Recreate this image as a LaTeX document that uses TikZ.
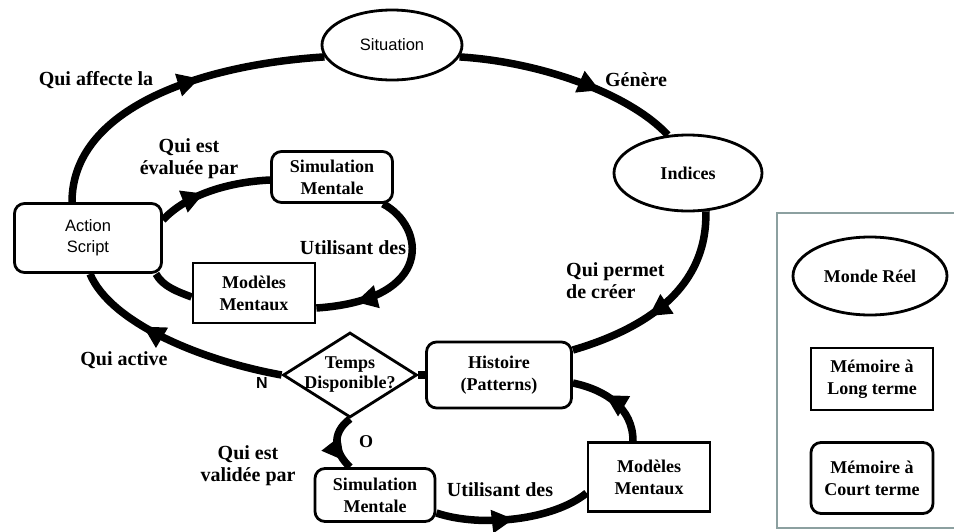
\documentclass[tikz,border=0pt]{standalone}
\usepackage{fontspec}
\setmainfont{Liberation Serif}
\newfontfamily\sansf{Liberation Sans}
\usetikzlibrary{shapes.geometric,arrows.meta,decorations.markings}
\tikzset{
  ntext/.style={font=\bfseries\fontsize{18pt}{22pt}\selectfont,align=center},
  stext/.style={font=\sansf\fontsize{16.5pt}{21pt}\selectfont,align=center},
  lab/.style={font=\bfseries\fontsize{20pt}{22pt}\selectfont,align=center,inner sep=0pt},
  ell/.style={ellipse,draw,line width=2.8pt,fill=white,inner sep=0pt},
  rbox/.style={draw,line width=2.8pt,rounded corners=10pt,fill=white,inner sep=0pt},
  sbox/.style={draw,line width=2.8pt,fill=white,inner sep=0pt},
  conn/.style={line width=7.5pt},
  mk/.style={postaction={decorate},decoration={markings,mark=at position #1 with {\arrow{Triangle[length=22pt,width=22pt]}}}}
}
\begin{document}
\begin{tikzpicture}[x=1pt,y=-1pt]
\useasboundingbox[fill=white] (0,0) rectangle (954,531);
% nodes
\node[ell,stext,minimum width=140pt,minimum height=70pt] (sit) at (392,45) {Situation};
\node[ell,ntext,minimum width=148pt,minimum height=76pt] (ind) at (688,173) {Indices};
\node[rbox,stext,minimum width=147pt,minimum height=69pt] (as) at (88,238) {Action\\Script};
\node[rbox,ntext,minimum width=121pt,minimum height=51pt] (sim1) at (332,177) {Simulation\\Mentale};
\node[sbox,ntext,minimum width=122pt,minimum height=60pt] (mod1) at (254,293) {Modèles\\Mentaux};
\node[diamond,draw,line width=2.8pt,fill=white,inner sep=0pt,minimum width=134pt,minimum height=85pt,
      label={[ntext,font=\bfseries\fontsize{18pt}{20pt}\selectfont]center:Temps\\Disponible?}] (dia) at (350,375) {};
\node[rbox,ntext,minimum width=145pt,minimum height=66pt] (hist) at (499,375) {Histoire\\(Patterns)};
\node[rbox,ntext,minimum width=120pt,minimum height=53pt] (sim2) at (375,495) {Simulation\\Mentale};
\node[sbox,ntext,minimum width=122pt,minimum height=69pt] (mod2) at (649,477) {Modèles\\Mentaux};
% legend
\node[draw={rgb,255:red,140;green,160;blue,160},line width=2pt,minimum width=178pt,minimum height=315pt,inner sep=0pt] (leg) at (866,370.5) {};
\node[ell,ntext,minimum width=154pt,minimum height=78pt] (mr) at (870,276) {Monde Réel};
\node[sbox,ntext,minimum width=122pt,minimum height=62pt] (ml) at (872,379) {Mémoire à\\Long terme};
\node[rbox,ntext,minimum width=122pt,minimum height=71pt] (mc) at (872,478) {Mémoire à\\Court terme};
% connectors
\draw[conn,mk=0.6] ([xshift=-16pt]as.north) .. controls +(0,-93) and +(-126,8) .. (sit.190);
\draw[conn,mk=0.64] (sit.-10) .. controls +(82,5) and +(-38,-41) .. (ind.118);
\draw[conn,mk=0.6] (ind.-65) .. controls +(2,80) and +(68,-20) .. ([yshift=25pt]hist.east);
\draw[conn] (dia.east) -- (hist.west);
\draw[conn,mk=0.66] (dia.west) .. controls +(-83,-15) and +(20,48) .. ([xshift=2pt]as.south);
\draw[conn,mk=0.85] (dia.south) .. controls +(-20,15) and +(-15,-14) .. ([xshift=-25pt]sim2.north);
\draw[conn,mk=0.5] ([yshift=-18pt]sim2.east) .. controls +(45,15) and +(-33,27) .. ([yshift=-16pt]mod2.west);
\draw[conn,mk=0.62] ([xshift=-16pt]mod2.north) .. controls +(0,-33) and +(33,7) .. ([yshift=-8pt]hist.east);
\draw[conn,mk=0.42] ([yshift=18pt]as.east) .. controls +(23,-25) and +(-42,2) .. ([yshift=-3pt]sim1.west);
\draw[conn,mk=0.78] ([xshift=51pt]sim1.south) .. controls +(42,22) and +(120,-8) .. ([yshift=-15pt]mod1.east);
\draw[conn] ([xshift=68pt]as.south) .. controls +(7,13) and +(-13,-5) .. ([yshift=-4pt]mod1.west);
% labels
\node[lab] (l1) at (96,80) {Qui affecte la};
\node[lab] (l2) at (636,80) {Génère};
\node[lab,align=left,anchor=west] (l3) at (566,281) {Qui permet\\de créer};
\node[lab] (l4) at (189,159) {Qui est\\évaluée par};
\node[lab] (l5) at (353,248) {Utilisant des};
\node[lab] (l6) at (124,360) {Qui active};
\node[font=\sansf\bfseries\fontsize{16pt}{18pt}\selectfont,inner sep=0pt] (nlab) at (262,383) {N};
\node[font=\bfseries\fontsize{18pt}{20pt}\selectfont,inner sep=0pt] (olab) at (366,442) {O};
\node[lab] (l7) at (248,466) {Qui est\\validée par};
\node[lab] (l8) at (500,490) {Utilisant des};
\end{tikzpicture}
\end{document}
